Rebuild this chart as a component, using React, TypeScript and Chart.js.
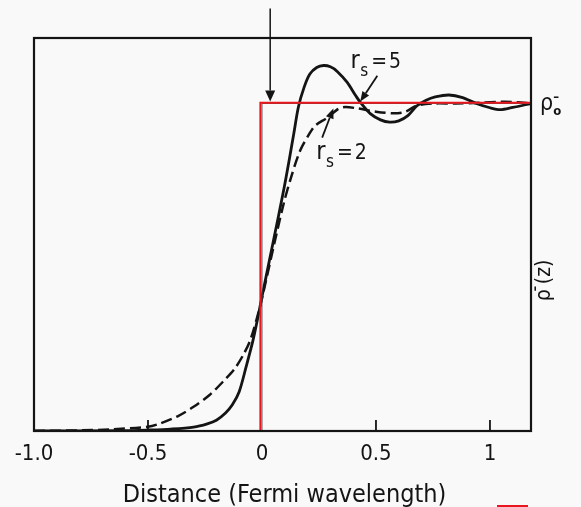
import React, { useEffect, useRef } from "react";
import { Chart, registerables } from "chart.js";

Chart.register(...registerables);

// ---- axis ranges & ticks ----
const X_MIN = -1.0;
const X_MAX = 1.18;
const Y_MIN = 0;
const Y_MAX = 1.2;
const TICK_VALUES = [-1.0, -0.5, 0, 0.5, 1];
const TICK_LABELS = ["-1.0", "-0.5", "0", "0.5", "1"];
const X_TITLE = "Distance (Fermi wavelength)";

// ---- r_s = 5 (solid) ----
const RS5_X = [-1.0, -0.6, -0.5, -0.4, -0.3, -0.24, -0.2, -0.16, -0.13, -0.1, -0.07, -0.04, -0.02, 0.0, 0.05, 0.095, 0.12, 0.14, 0.16, 0.185, 0.21, 0.24, 0.27, 0.3, 0.33, 0.373, 0.41, 0.431, 0.475, 0.52, 0.56, 0.6, 0.64, 0.68, 0.72, 0.76, 0.82, 0.88, 0.94, 1.0, 1.045, 1.1, 1.18];
const RS5_Y = [0.0, 0.001, 0.003, 0.006, 0.012, 0.022, 0.033, 0.055, 0.08, 0.12, 0.195, 0.275, 0.34, 0.41, 0.58, 0.735, 0.83, 0.91, 0.99, 1.05, 1.09, 1.11, 1.116, 1.112, 1.098, 1.065, 1.025, 1.004, 0.969, 0.95, 0.943, 0.947, 0.963, 0.993, 1.01, 1.02, 1.026, 1.018, 1.0, 0.987, 0.981, 0.988, 1.0];

// ---- r_s = 2 (dashed) ----
const RS2_X = [-1.0, -0.8, -0.66, -0.5, -0.45, -0.37, -0.3, -0.23, -0.165, -0.12, -0.08, -0.05, -0.02, 0.0, 0.05, 0.095, 0.13, 0.168, 0.21, 0.234, 0.285, 0.336, 0.365, 0.42, 0.5, 0.58, 0.63, 0.68, 0.75, 0.85, 0.95, 1.05, 1.12, 1.18];
const RS2_Y = [0.0, 0.002, 0.005, 0.013, 0.022, 0.045, 0.074, 0.11, 0.155, 0.19, 0.235, 0.28, 0.35, 0.405, 0.56, 0.694, 0.78, 0.857, 0.91, 0.933, 0.956, 0.984, 0.989, 0.985, 0.975, 0.97, 0.975, 0.994, 1.0, 1.0, 1.002, 1.005, 1.004, 1.0];

// ---- step profiles ----
const STEP_X = [0, 0, 1.18];
const STEP_Y = [0, 1, 1];
const RED_STEP_X = [-0.007, -0.007, 1.18];
const RED_STEP_Y = [0, 1.002, 1.002];

// ---- annotation anchors (data coordinates) ----
const TOP_ARROW = { x: 0.036, yFrom: 1.29, yTo: 1.006 };
const RS5_LABEL = { x: 0.388, y: 1.107, value: "5" };
const RS5_ARROW = { x1: 0.506, y1: 1.085, x2: 0.431, y2: 1.006 };
const RS2_LABEL = { x: 0.238, y: 0.832, value: "2" };
const RS2_ARROW = { x1: 0.264, y1: 0.896, x2: 0.313, y2: 0.985 };

const INK = "#141414";
const RED = "rgb(232,22,30)";
const FONT = '"DejaVu Sans Condensed", "Liberation Sans Narrow", "DejaVu Sans", sans-serif';

const toPts = (xs: number[], ys: number[]) => xs.map((x, i) => ({ x, y: ys[i] }));

function arrow(ctx: CanvasRenderingContext2D, x1: number, y1: number, x2: number, y2: number, lw: number, head: number, half: number) {
  const ang = Math.atan2(y2 - y1, x2 - x1);
  const bx = x2 - Math.cos(ang) * head;
  const by = y2 - Math.sin(ang) * head;
  ctx.lineWidth = lw;
  ctx.beginPath();
  ctx.moveTo(x1, y1);
  ctx.lineTo(bx, by);
  ctx.stroke();
  ctx.beginPath();
  ctx.moveTo(x2, y2);
  ctx.lineTo(bx + Math.sin(ang) * half, by - Math.cos(ang) * half);
  ctx.lineTo(bx - Math.sin(ang) * half, by + Math.cos(ang) * half);
  ctx.closePath();
  ctx.fill();
}

const decorPlugin = {
  id: "decor",
  afterDraw(chart: any) {
    const { ctx, chartArea: ca, scales } = chart;
    const sx = scales.x;
    const sy = scales.y;
    const px = (v: number) => sx.getPixelForValue(v);
    const py = (v: number) => sy.getPixelForValue(v);
    ctx.save();
    ctx.strokeStyle = INK;
    ctx.fillStyle = INK;

    // frame
    ctx.lineWidth = 2.2;
    ctx.strokeRect(ca.left, ca.top, ca.right - ca.left, ca.bottom - ca.top);

    // inward tick marks
    ctx.lineWidth = 1.8;
    TICK_VALUES.forEach((v) => {
      if (v === X_MIN || v === 0) return;
      const x = px(v);
      ctx.beginPath();
      ctx.moveTo(x, ca.bottom);
      ctx.lineTo(x, ca.bottom - 11);
      ctx.stroke();
    });

    // top arrow
    arrow(ctx, px(TOP_ARROW.x), py(TOP_ARROW.yFrom), px(TOP_ARROW.x), py(TOP_ARROW.yTo), 1.5, 11, 5);

    // r_s labels
    const drawRs = (lab: { x: number; y: number; value: string }) => {
      let x = px(lab.x);
      const y = py(lab.y);
      ctx.textBaseline = "alphabetic";
      ctx.textAlign = "left";
      ctx.font = `25px ${FONT}`;
      ctx.fillText("r", x, y);
      x += ctx.measureText("r").width + 0.5;
      ctx.font = `17px ${FONT}`;
      ctx.fillText("s", x, y + 8);
      x += ctx.measureText("s").width + 3;
      ctx.font = `21px ${FONT}`;
      ctx.fillText("=", x, y);
      x += ctx.measureText("=").width + 2;
      ctx.fillText(lab.value, x, y);
    };
    drawRs(RS5_LABEL);
    drawRs(RS2_LABEL);
    arrow(ctx, px(RS5_ARROW.x1), py(RS5_ARROW.y1), px(RS5_ARROW.x2), py(RS5_ARROW.y2), 1.8, 10, 4);
    arrow(ctx, px(RS2_ARROW.x1), py(RS2_ARROW.y1), px(RS2_ARROW.x2), py(RS2_ARROW.y2), 1.8, 10, 4);

    // rho_0 label at right of frame, at level y = 1
    {
      const x = ca.right + 9;
      const y = py(1) + 6;
      ctx.font = `23px ${FONT}`;
      ctx.textAlign = "left";
      ctx.fillText("ρ", x, y);
      const w = ctx.measureText("ρ").width;
      ctx.font = `bold 13px ${FONT}`;
      ctx.fillText("–", x + w, y - 9);
      ctx.fillText("o", x + w, y + 5);
    }

    // rho(z) rotated label
    {
      const cx = ca.right + 14;
      const cy = py(0.46);
      ctx.save();
      ctx.translate(cx, cy);
      ctx.rotate(-Math.PI / 2);
      ctx.font = `21px ${FONT}`;
      ctx.textBaseline = "middle";
      const wRho = ctx.measureText("ρ").width;
      const wRest = ctx.measureText("(z)").width;
      const total = wRho + 5 + wRest;
      const x = -total / 2;
      ctx.fillText("ρ", x, 0);
      ctx.font = `bold 12px ${FONT}`;
      ctx.fillText("–", x + wRho - 2, -9);
      ctx.font = `21px ${FONT}`;
      ctx.fillText("(z)", x + wRho + 5, 0);
      ctx.restore();
    }

    // x axis title
    {
      ctx.font = `25px ${FONT}`;
      ctx.textAlign = "center";
      ctx.textBaseline = "alphabetic";
      ctx.fillText(X_TITLE, (ca.left + ca.right) / 2 + 2, 502);
    }

    // small red scan mark in lower right corner
    ctx.strokeStyle = RED;
    ctx.lineWidth = 2;
    ctx.beginPath();
    ctx.moveTo(497, 506);
    ctx.lineTo(528, 506);
    ctx.stroke();

    ctx.restore();
  },
};

export default function App() {
  const ref = useRef<HTMLCanvasElement | null>(null);

  useEffect(() => {
    if (!ref.current) return;
    const chart = new Chart(ref.current, {
      type: "line",
      data: {
        datasets: [
          {
            label: "step (red)",
            data: toPts(RED_STEP_X, RED_STEP_Y),
            borderColor: RED,
            borderWidth: 2,
            pointRadius: 0,
            tension: 0,
          },
          {
            label: "step",
            data: toPts(STEP_X, STEP_Y),
            borderColor: "#555",
            borderWidth: 1,
            pointRadius: 0,
            tension: 0,
          },
          {
            label: "rs = 5",
            data: toPts(RS5_X, RS5_Y),
            borderColor: INK,
            borderWidth: 2.8,
            pointRadius: 0,
            tension: 0.3,
          },
          {
            label: "rs = 2",
            data: toPts(RS2_X, RS2_Y),
            borderColor: INK,
            borderWidth: 2.5,
            borderDash: [11, 5],
            pointRadius: 0,
            tension: 0.3,
          },
        ],
      },
      options: {
        responsive: false,
        animation: false,
        layout: { padding: { left: 34, right: 50, top: 38, bottom: 29.6 } },
        plugins: { legend: { display: false }, tooltip: { enabled: false }, title: { display: false } },
        scales: {
          x: {
            type: "linear",
            min: X_MIN,
            max: X_MAX,
            grid: { display: false, drawTicks: false },
            border: { display: false },
            afterBuildTicks: (scale: any) => {
              scale.ticks = TICK_VALUES.map((v) => ({ value: v }));
            },
            ticks: {
              padding: 10,
              maxRotation: 0,
              autoSkip: false,
              color: INK,
              font: { family: FONT, size: 22, lineHeight: 1.2 },
              callback: (value: any) => {
                const i = TICK_VALUES.findIndex((t) => Math.abs(t - Number(value)) < 1e-9);
                return i >= 0 ? TICK_LABELS[i] : "";
              },
            },
          },
          y: {
            type: "linear",
            min: Y_MIN,
            max: Y_MAX,
            display: false,
          },
        },
      },
      plugins: [decorPlugin],
    });
    return () => chart.destroy();
  }, []);

  return (
    <div style={{ position: "fixed", left: 0, top: 0, width: 581, height: 507, background: "#f9f9f9" }}>
      <canvas ref={ref} width={581} height={507} style={{ display: "block" }} />
    </div>
  );
}
